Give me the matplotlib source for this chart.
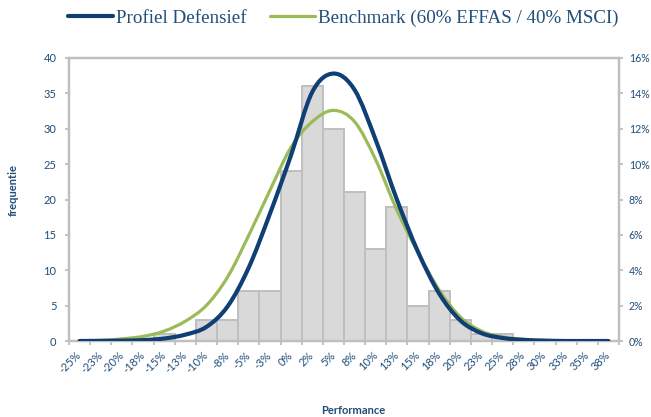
import numpy as np
import matplotlib.pyplot as plt
import matplotlib.transforms as mtransforms
from matplotlib.path import Path
from matplotlib.patches import PathPatch
from matplotlib.lines import Line2D
from matplotlib.ticker import PercentFormatter

# categories (performance buckets) and counts
labels = ['-25%', '-23%', '-20%', '-18%', '-15%', '-13%', '-10%', '-8%', '-5%', '-3%',
          '0%', '2%', '5%', '8%', '10%', '13%', '15%', '18%', '20%', '23%',
          '25%', '28%', '30%', '33%', '35%', '38%']
counts = [0, 0, 0, 0, 1, 0, 3, 3, 7, 7, 24, 36, 30, 21, 13, 19, 5, 7, 3, 1, 1, 0, 0, 0, 0, 0]

# fitted distributions (% per bucket, right axis)
profiel = [0.0, 0.01, 0.02, 0.05, 0.14, 0.36, 0.8, 1.96, 4.16, 7.2, 10.52, 14.08, 15.12,
           14.2, 11.36, 8.0, 5.04, 2.68, 1.16, 0.44, 0.17, 0.06, 0.02, 0.0, 0.0, 0.0]
benchmark = [0.01, 0.03, 0.12, 0.26, 0.56, 1.12, 2.02, 3.62, 5.98, 8.52, 10.96, 12.4, 13.04,
             12.4, 10.24, 7.4, 5.0, 2.88, 1.36, 0.56, 0.23, 0.1, 0.03, 0.01, 0.0, 0.0]

navy = '#0F3F74'
green = '#9BBB59'
txt = '#1F4E79'
grey = '#BFBFBF'

plt.rcParams['font.family'] = ['Lato', 'DejaVu Sans']


def smooth_path(xs, ys):
    # Excel-style smoothed line drawn as cubic bezier segments
    pts = np.column_stack([xs, ys]).astype(float)
    ext = np.vstack([pts[0], pts, pts[-1]])
    verts = [pts[0]]
    codes = [Path.MOVETO]
    for i in range(len(pts) - 1):
        p0, p1, p2, p3 = ext[i], ext[i + 1], ext[i + 2], ext[i + 3]
        verts += [p1 + (p2 - p0) / 6, p2 - (p3 - p1) / 6, p2]
        codes += [Path.CURVE4] * 3
    return Path(verts, codes)


fig = plt.figure(figsize=(6.51, 4.17), dpi=100)
ax = fig.add_axes([69 / 651, 1 - 341 / 417, 550 / 651, 283 / 417])
x = np.arange(len(labels))

ax.bar(x, counts, width=1.0, color='#D9D9D9', edgecolor=grey, linewidth=1.4, zorder=2)
ax.set_xlim(-0.5, len(labels) - 0.5)
ax.set_ylim(0, 40)
ax.set_yticks(range(0, 41, 5))
ax.set_xticks(x)
ax.set_xticklabels(labels, rotation=45, ha='right', va='center', rotation_mode='anchor')
shift = mtransforms.ScaledTranslation(3 / 100, 0, fig.dpi_scale_trans)
for lab in ax.get_xticklabels():
    lab.set_transform(lab.get_transform() + shift)
ax.set_xticks(np.arange(-0.5, len(labels), 1), minor=True)
ax.tick_params(axis='x', which='major', length=0, pad=9, labelsize=8, labelcolor=txt)
ax.tick_params(axis='x', which='minor', length=3, color=grey, width=1.3)
ax.tick_params(axis='y', length=3, color=grey, width=1.3, labelsize=8, labelcolor=txt, pad=6)

fig.text(13 / 651, 1 - 190 / 417, 'frequentie', rotation=90, ha='center', va='center',
         fontsize=8, fontweight='bold', color=txt)
fig.text(353 / 651, 1 - 410 / 417, 'Performance', ha='center', va='center',
         fontsize=8, fontweight='bold', color=txt)

ax2 = ax.twinx()
ax2.set_ylim(0, 16)
ax2.set_yticks(range(0, 17, 2))
ax2.yaxis.set_major_formatter(PercentFormatter(decimals=0))
ax2.tick_params(axis='y', length=3, color=grey, width=1.3, labelsize=7.6, labelcolor=txt, pad=4)
ax2.add_patch(PathPatch(smooth_path(x, benchmark), facecolor='none', edgecolor=green,
                        linewidth=2.3, capstyle='round', zorder=3))
ax2.add_patch(PathPatch(smooth_path(x, profiel), facecolor='none', edgecolor=navy,
                        linewidth=3.0, capstyle='round', zorder=4))

for a in (ax, ax2):
    for s in a.spines.values():
        s.set_color(grey)
        s.set_linewidth(1.6)

handles = [Line2D([], [], color=navy, linewidth=3.0, solid_capstyle='round'),
           Line2D([], [], color=green, linewidth=2.3, solid_capstyle='round')]
leg = fig.legend(handles, ['Profiel Defensief', 'Benchmark (60% EFFAS / 40% MSCI)'],
                 loc='center left', bbox_to_anchor=(60 / 651, 1 - 18 / 417), ncol=2,
                 frameon=False, handlelength=2.4, handletextpad=0.15, columnspacing=1.2,
                 borderaxespad=0, prop={'family': 'Liberation Serif', 'size': 13.7})
for t in leg.get_texts():
    t.set_color(txt)

fig.savefig('out.png', dpi=100)
